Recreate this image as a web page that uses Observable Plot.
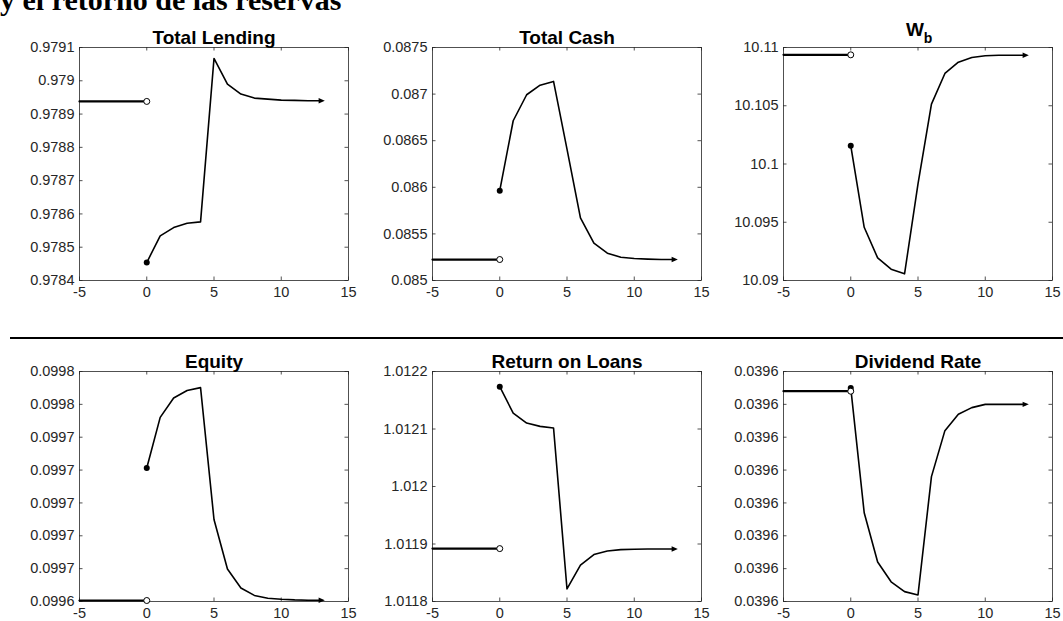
<!DOCTYPE html>
<html><head><meta charset="utf-8">
<script src="https://cdn.jsdelivr.net/npm/d3@7"></script>
<script src="https://cdn.jsdelivr.net/npm/@observablehq/plot@0.6"></script>
<style>
body{margin:0;background:#fff;}
#wrap{position:relative;width:1063px;height:621px;overflow:hidden;background:#fff;}
.panel{position:absolute;}
#heading{position:absolute;left:0;top:-15px;font:bold 30px "Liberation Serif","Times New Roman",serif;line-height:30px;white-space:nowrap;color:#000;}
#sep{position:absolute;left:10px;top:337px;width:1053px;height:2px;background:#000;}
</style></head><body>
<div id="wrap"><div id="heading">y el retorno de las reservas</div><div id="sep"></div></div>
<script>
// ---- data ----
const horizon = [0,1,2,3,4,5,6,7,8,9,10,11,12,13];
const xTicks = [-5,0,5,10,15];
const xTickLabels = ["-5","0","5","10","15"];

const titles = ["Total Lending","Total Cash","W_b","Equity","Return on Loans","Dividend Rate"];

const lendingPre = 0.978938;
const lending = [0.978454,0.978534,0.978559,0.978572,0.978576,0.979067,0.97899,0.97896,0.978948,0.978945,0.978942,0.978941,0.97894,0.97894];
const lendingTicks = [0.9784,0.9785,0.9786,0.9787,0.9788,0.9789,0.979,0.9791];
const lendingLabels = ["0.9784","0.9785","0.9786","0.9787","0.9788","0.9789","0.979","0.9791"];

const cashPre = 0.085225;
const cash = [0.085964,0.086714,0.086993,0.087096,0.087136,0.08641,0.085671,0.0854,0.085293,0.08525,0.085236,0.085229,0.085225,0.085225];
const cashTicks = [0.085,0.0855,0.086,0.0865,0.087,0.0875];
const cashLabels = ["0.085","0.0855","0.086","0.0865","0.087","0.0875"];

const wbPre = 10.10937;
const wb = [10.10157,10.09457,10.09194,10.09097,10.09057,10.09829,10.10514,10.10777,10.10874,10.10914,10.10929,10.10934,10.10934,10.10934];
const wbTicks = [10.09,10.095,10.1,10.105,10.11];
const wbLabels = ["10.09","10.095","10.1","10.105","10.11"];

const equityPre = 0.0996406;
const equity = [0.0997213,0.0997521,0.0997639,0.0997684,0.0997702,0.0996899,0.0996598,0.0996482,0.0996437,0.099642,0.0996414,0.099641,0.0996408,0.0996408];
const equityTicks = [0.09964,0.09966,0.09968,0.0997,0.09972,0.09974,0.09976,0.09978];
const equityLabels = ["0.0996","0.0997","0.0997","0.0997","0.0997","0.0997","0.0998","0.0998"];

const rolPre = 1.011892;
const rol = [1.0121736,1.0121276,1.0121103,1.0121046,1.0121017,1.0118218,1.0118632,1.0118816,1.0118879,1.0118902,1.0118908,1.0118914,1.0118914,1.0118914];
const rolTicks = [1.0118,1.0119,1.012,1.0121,1.0122];
const rolLabels = ["1.0118","1.0119","1.012","1.0121","1.0122"];

const divPre = 0.0396014;
const div = [0.0396015,0.0395977,0.0395962,0.0395956,0.0395953,0.0395952,0.0395988,0.0396002,0.0396007,0.0396009,0.039601,0.039601,0.039601,0.039601];
const divTicks = [0.039595,0.039596,0.039597,0.039598,0.039599,0.0396,0.039601,0.039602];
const divLabels = ["0.0396","0.0396","0.0396","0.0396","0.0396","0.0396","0.0396","0.0396"];

// ---- layout ----
const ML = 80, MR = 15, MT = 50, MB = 25, FW = 269;
const panels = [
  {title: titles[0], pre: lendingPre, values: lending, ticks: lendingTicks, labels: lendingLabels, fx: 79, fy: 47, fh: 233},
  {title: titles[1], pre: cashPre, values: cash, ticks: cashTicks, labels: cashLabels, fx: 432, fy: 47, fh: 233},
  {title: titles[2], pre: wbPre, values: wb, ticks: wbTicks, labels: wbLabels, fx: 783, fy: 47, fh: 233, sub: true},
  {title: titles[3], pre: equityPre, values: equity, ticks: equityTicks, labels: equityLabels, fx: 79, fy: 371, fh: 230},
  {title: titles[4], pre: rolPre, values: rol, ticks: rolTicks, labels: rolLabels, fx: 432, fy: 371, fh: 230},
  {title: titles[5], pre: divPre, values: div, ticks: divTicks, labels: divLabels, fx: 783, fy: 371, fh: 230}
];

const arrowHead = {
  draw(ctx, size) {
    const r = Math.sqrt(size / Math.PI);
    const k = r / 3;
    ctx.moveTo(3.2 * k, 0);
    ctx.lineTo(-3 * k, -2.7 * k);
    ctx.lineTo(-3 * k, 2.7 * k);
    ctx.closePath();
  }
};

const INK = "#262626";
const wrap = document.getElementById("wrap");

for (const p of panels) {
  const fh = p.fh, tl = 3.5;
  const preLine = [{t: -5, v: p.pre}, {t: 0, v: p.pre}];
  const resp = horizon.map((t, i) => ({t, v: p.values[i]}));
  const marks = [
    Plot.frame({stroke: INK, strokeWidth: 0.8}),
    Plot.tickX(xTicks, {x: d => d, insetTop: fh - tl, stroke: INK, strokeWidth: 0.8}),
    Plot.tickX(xTicks, {x: d => d, insetBottom: fh - tl, stroke: INK, strokeWidth: 0.8}),
    Plot.tickY(p.ticks, {y: d => d, insetRight: FW - tl, stroke: INK, strokeWidth: 0.8}),
    Plot.tickY(p.ticks, {y: d => d, insetLeft: FW - tl, stroke: INK, strokeWidth: 0.8}),
    Plot.axisX({ticks: xTicks, tickSize: 0, tickPadding: 6, label: null, color: INK,
      tickFormat: d => xTickLabels[xTicks.indexOf(d)]}),
    Plot.axisY({ticks: p.ticks, tickSize: 0, tickPadding: 5, label: null, color: INK,
      tickFormat: d => p.labels[p.ticks.indexOf(d)]}),
    Plot.line(preLine, {x: "t", y: "v", stroke: "black", strokeWidth: 2.2}),
    Plot.line(resp, {x: "t", y: "v", stroke: "black", strokeWidth: 1.6}),
    Plot.dot([resp[0]], {x: "t", y: "v", r: 3, fill: "black"}),
    Plot.dot([preLine[1]], {x: "t", y: "v", r: 3, fill: "white", stroke: "black", strokeWidth: 1}),
    Plot.dot([resp[resp.length - 1]], {x: "t", y: "v", r: 3, symbol: arrowHead, fill: "black"})
  ];
  if (p.sub) {
    const [main, sub] = p.title.split("_");
    marks.push(Plot.text([main], {text: d => d, frameAnchor: "top", dx: -3, dy: -25, fontSize: 19, fontWeight: "bold", fill: "black"}));
    marks.push(Plot.text([sub], {text: d => d, frameAnchor: "top", dx: 10, dy: -14, fontSize: 14, fontWeight: "bold", fill: "black"}));
  } else {
    marks.push(Plot.text([p.title], {text: d => d, frameAnchor: "top", dy: -17, fontSize: 19, fontWeight: "bold", fill: "black"}));
  }
  const chart = Plot.plot({
    width: FW + ML + MR, height: fh + MT + MB,
    marginLeft: ML, marginRight: MR, marginTop: MT, marginBottom: MB,
    x: {domain: [-5, 15]},
    y: {domain: [p.ticks[0], p.ticks[p.ticks.length - 1]]},
    style: {fontFamily: "'Liberation Sans', Arial, Helvetica, sans-serif", fontSize: "14.5px", color: INK, background: "transparent", overflow: "visible"},
    marks
  });
  chart.classList.add("panel");
  chart.style.left = (p.fx - ML) + "px";
  chart.style.top = (p.fy - MT) + "px";
  chart.style.position = "absolute";
  wrap.appendChild(chart);
}
</script>
</body></html>
